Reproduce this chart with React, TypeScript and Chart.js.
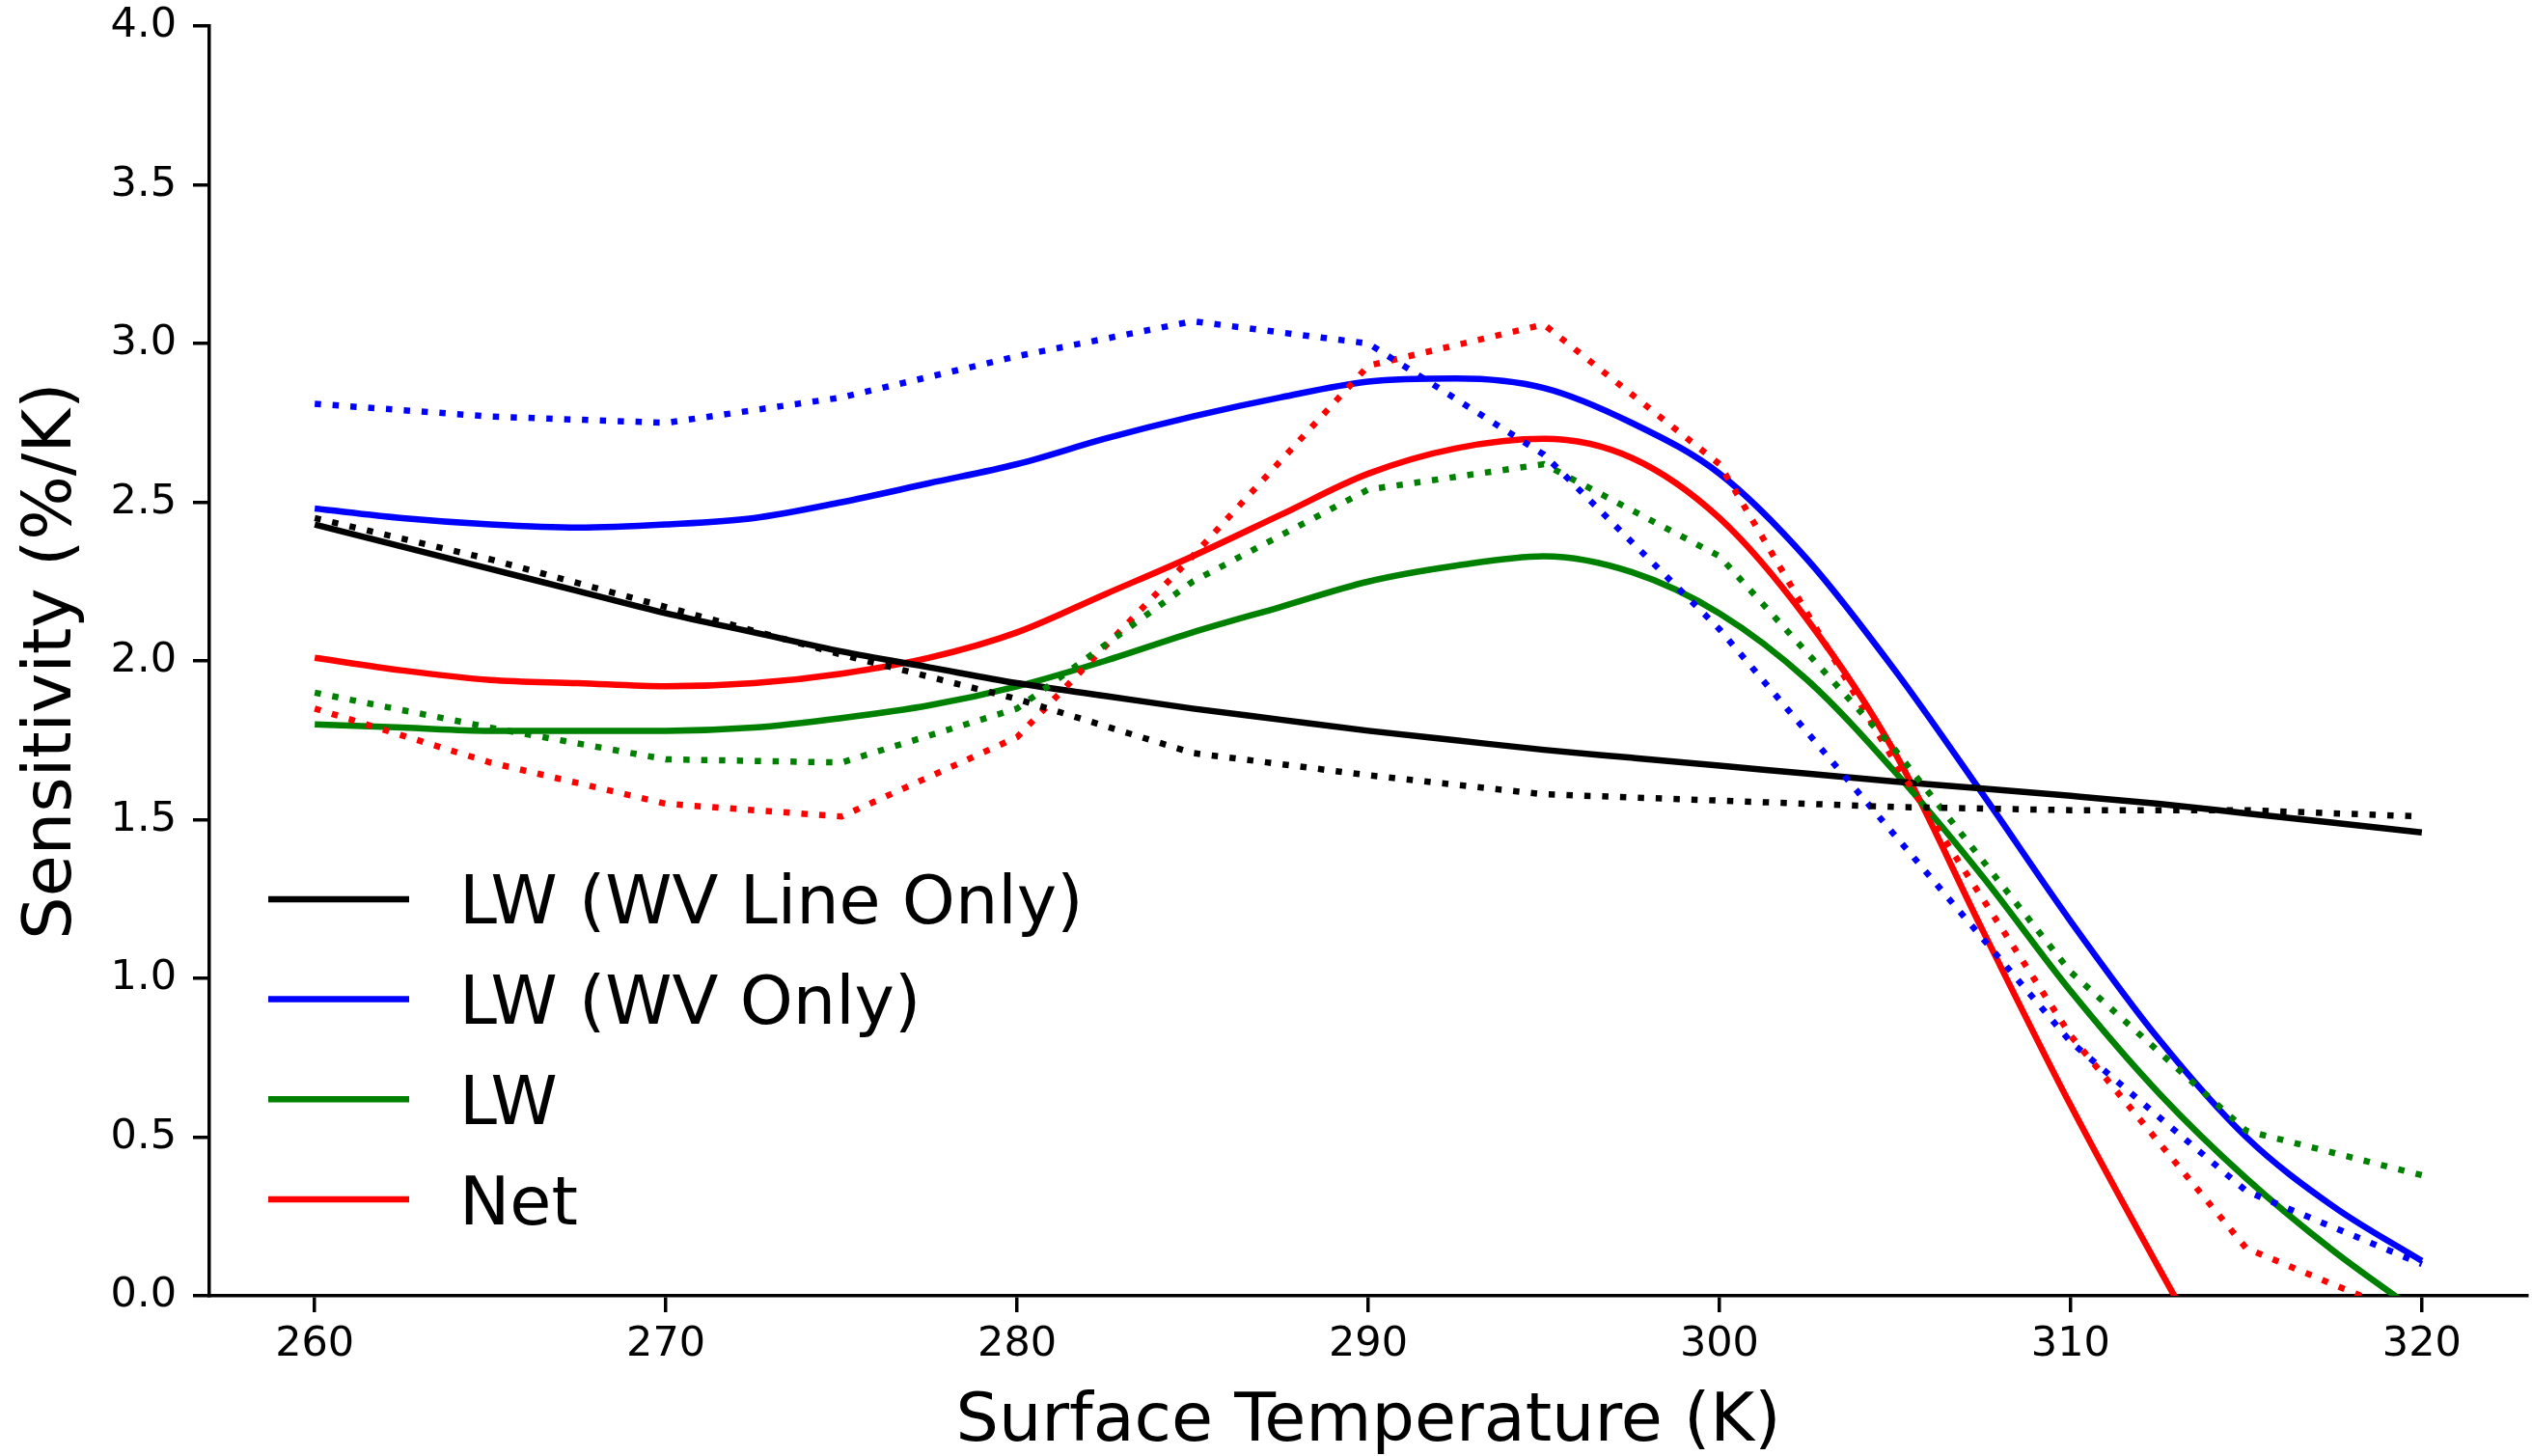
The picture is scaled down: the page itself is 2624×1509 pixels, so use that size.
import React, { useEffect, useRef } from "react";
import { Chart, registerables } from "chart.js";

Chart.register(...registerables);

// ---------------- data ----------------
const tempsFine = [260, 262.5, 265, 267.5, 270, 272.5, 275, 277.5, 280, 282.5, 285, 287.5, 290, 292.5, 295, 297.5, 300, 302.5, 305, 307.5, 310, 312.5, 315, 317.5, 320];
const tempsCoarse = [260, 265, 270, 275, 280, 285, 290, 295, 300, 305, 310, 315, 320];

const lwLineOnly = [2.43, 2.36, 2.29, 2.22, 2.15, 2.09, 2.03, 1.98, 1.93, 1.89, 1.85, 1.815, 1.78, 1.75, 1.72, 1.695, 1.67, 1.645, 1.62, 1.598, 1.575, 1.55, 1.52, 1.49, 1.46];
const lwWvOnly = [2.48, 2.45, 2.43, 2.42, 2.43, 2.45, 2.50, 2.56, 2.62, 2.70, 2.77, 2.83, 2.88, 2.89, 2.86, 2.75, 2.59, 2.32, 1.97, 1.58, 1.18, 0.81, 0.50, 0.28, 0.11];
const lwAll = [1.80, 1.79, 1.78, 1.78, 1.78, 1.79, 1.82, 1.86, 1.92, 2.00, 2.09, 2.17, 2.25, 2.30, 2.33, 2.28, 2.15, 1.94, 1.65, 1.32, 0.96, 0.64, 0.37, 0.14, -0.06];
const net = [2.01, 1.97, 1.94, 1.93, 1.92, 1.93, 1.96, 2.01, 2.09, 2.21, 2.33, 2.46, 2.59, 2.67, 2.70, 2.64, 2.45, 2.13, 1.71, 1.15, 0.60, 0.09, -0.40];

const lwLineOnlyDotted = [2.45, 2.32, 2.17, 2.02, 1.88, 1.71, 1.64, 1.58, 1.56, 1.54, 1.53, 1.53, 1.51];
const lwWvOnlyDotted = [2.81, 2.77, 2.75, 2.83, 2.96, 3.07, 3.00, 2.65, 2.10, 1.45, 0.80, 0.33, 0.10];
const lwAllDotted = [1.90, 1.79, 1.69, 1.68, 1.85, 2.25, 2.54, 2.62, 2.33, 1.72, 1.02, 0.52, 0.38];
const netDotted = [1.85, 1.68, 1.55, 1.51, 1.76, 2.33, 2.93, 3.06, 2.62, 1.68, 0.82, 0.15, -0.08];

const seriesLabels = ["LW (WV Line Only)", "LW (WV Only)", "LW", "Net"];
const seriesColors = ["#000000", "#0000ff", "#008000", "#ff0000"];

const xTickValues = [260, 270, 280, 290, 300, 310, 320];
const xLabel = "Surface Temperature (K)";
const yLabel = "Sensitivity (%/K)";

// ---------------- styling ----------------
const FONT = '"DejaVu Sans", sans-serif';
const W = 2624;
const H = 1509;
const LINE_W = 6.5;
const TICK_FONT = 43;
const LABEL_FONT = 70;
const LEGEND_FONT = 70;

const zip = (xs: number[], ys: number[]) => ys.map((y, i) => ({ x: xs[i], y }));

const legendPlugin = {
  id: "innerLegend",
  afterDatasetsDraw(chart: any) {
    const { ctx, chartArea } = chart;
    const items = chart.data.datasets.filter((d: any) => d.inLegend);
    const rowH = 103.7;
    const bottomOffset = 100;
    ctx.save();
    ctx.font = `${LEGEND_FONT}px ${FONT}`;
    ctx.textAlign = "left";
    ctx.textBaseline = "alphabetic";
    items.forEach((d: any, i: number) => {
      const y = chartArea.bottom - bottomOffset - (items.length - 1 - i) * rowH;
      ctx.strokeStyle = d.borderColor;
      ctx.lineWidth = LINE_W;
      ctx.lineCap = "butt";
      ctx.beginPath();
      ctx.moveTo(chartArea.left + 61, y);
      ctx.lineTo(chartArea.left + 207, y);
      ctx.stroke();
      ctx.fillStyle = "#000000";
      ctx.fillText(d.label, chartArea.left + 259, y + 0.3645 * LEGEND_FONT);
    });
    ctx.restore();
  },
};

export default function App() {
  const ref = useRef<HTMLCanvasElement | null>(null);

  useEffect(() => {
    if (!ref.current) return;
    const solid = [lwLineOnly, lwWvOnly, lwAll, net].map((vals, i) => ({
      label: seriesLabels[i],
      inLegend: true,
      data: zip(tempsFine, vals),
      borderColor: seriesColors[i],
      backgroundColor: seriesColors[i],
      borderWidth: LINE_W,
      pointRadius: 0,
      cubicInterpolationMode: "monotone" as const,
      borderJoinStyle: "round" as const,
      borderCapStyle: "butt" as const,
      clip: 0,
    }));
    const dotted = [lwLineOnlyDotted, lwWvOnlyDotted, lwAllDotted, netDotted].map((vals, i) => ({
      label: seriesLabels[i] + " (dotted)",
      inLegend: false,
      data: zip(tempsCoarse, vals),
      borderColor: seriesColors[i],
      backgroundColor: seriesColors[i],
      borderWidth: LINE_W,
      borderDash: [LINE_W, 12],
      borderCapStyle: "butt" as const,
      pointRadius: 0,
      tension: 0,
      clip: 0,
    }));

    const axisCommon = {
      grid: {
        display: true,
        drawOnChartArea: false,
        drawTicks: true,
        tickLength: 17,
        lineWidth: 3.5,
        tickWidth: 3.5,
        color: "#000000",
        tickColor: "#000000",
      },
      border: { display: true, color: "#000000", width: 3.5 },
    };

    const chart = new Chart(ref.current, {
      type: "line",
      data: { datasets: [...dotted, ...solid] as any },
      plugins: [legendPlugin],
      options: {
        animation: false,
        responsive: false,
        devicePixelRatio: 1,
        events: [],
        layout: { padding: { top: 27, right: 5, left: 0, bottom: 0 } },
        plugins: {
          legend: { display: false },
          tooltip: { enabled: false },
          title: { display: false },
        },
        scales: {
          x: {
            type: "linear",
            min: 257,
            max: 323,
            ...axisCommon,
            afterBuildTicks: (s: any) => {
              s.ticks = xTickValues.map((v) => ({ value: v }));
            },
            afterFit: (s: any) => {
              s.height = 166;
              s.paddingLeft = 0;
              s.paddingRight = 0;
            },
            ticks: {
              autoSkip: false,
              maxRotation: 0,
              padding: 8,
              color: "#000000",
              font: { family: FONT, size: TICK_FONT },
              callback: (v: any) => String(v),
            },
            title: {
              display: true,
              text: xLabel,
              color: "#000000",
              font: { family: FONT, size: LABEL_FONT },
              padding: { top: 0, bottom: -8 },
            },
          },
          y: {
            type: "linear",
            min: 0,
            max: 4,
            ...axisCommon,
            afterFit: (s: any) => {
              s.width = 217;
              s.paddingTop = 0;
              s.paddingBottom = 0;
            },
            ticks: {
              stepSize: 0.5,
              padding: 17,
              color: "#000000",
              font: { family: FONT, size: TICK_FONT },
              callback: (v: any) => Number(v).toFixed(1),
            },
            title: {
              display: true,
              text: yLabel,
              color: "#000000",
              font: { family: FONT, size: LABEL_FONT },
              padding: { top: 13, bottom: 0 },
            },
          },
        },
      } as any,
    });
    return () => chart.destroy();
  }, []);

  return (
    <div style={{ position: "absolute", left: 0, top: 0, width: W, height: H, background: "#ffffff", overflow: "hidden" }}>
      <canvas ref={ref} width={W} height={H} style={{ display: "block", width: W, height: H }} />
    </div>
  );
}
